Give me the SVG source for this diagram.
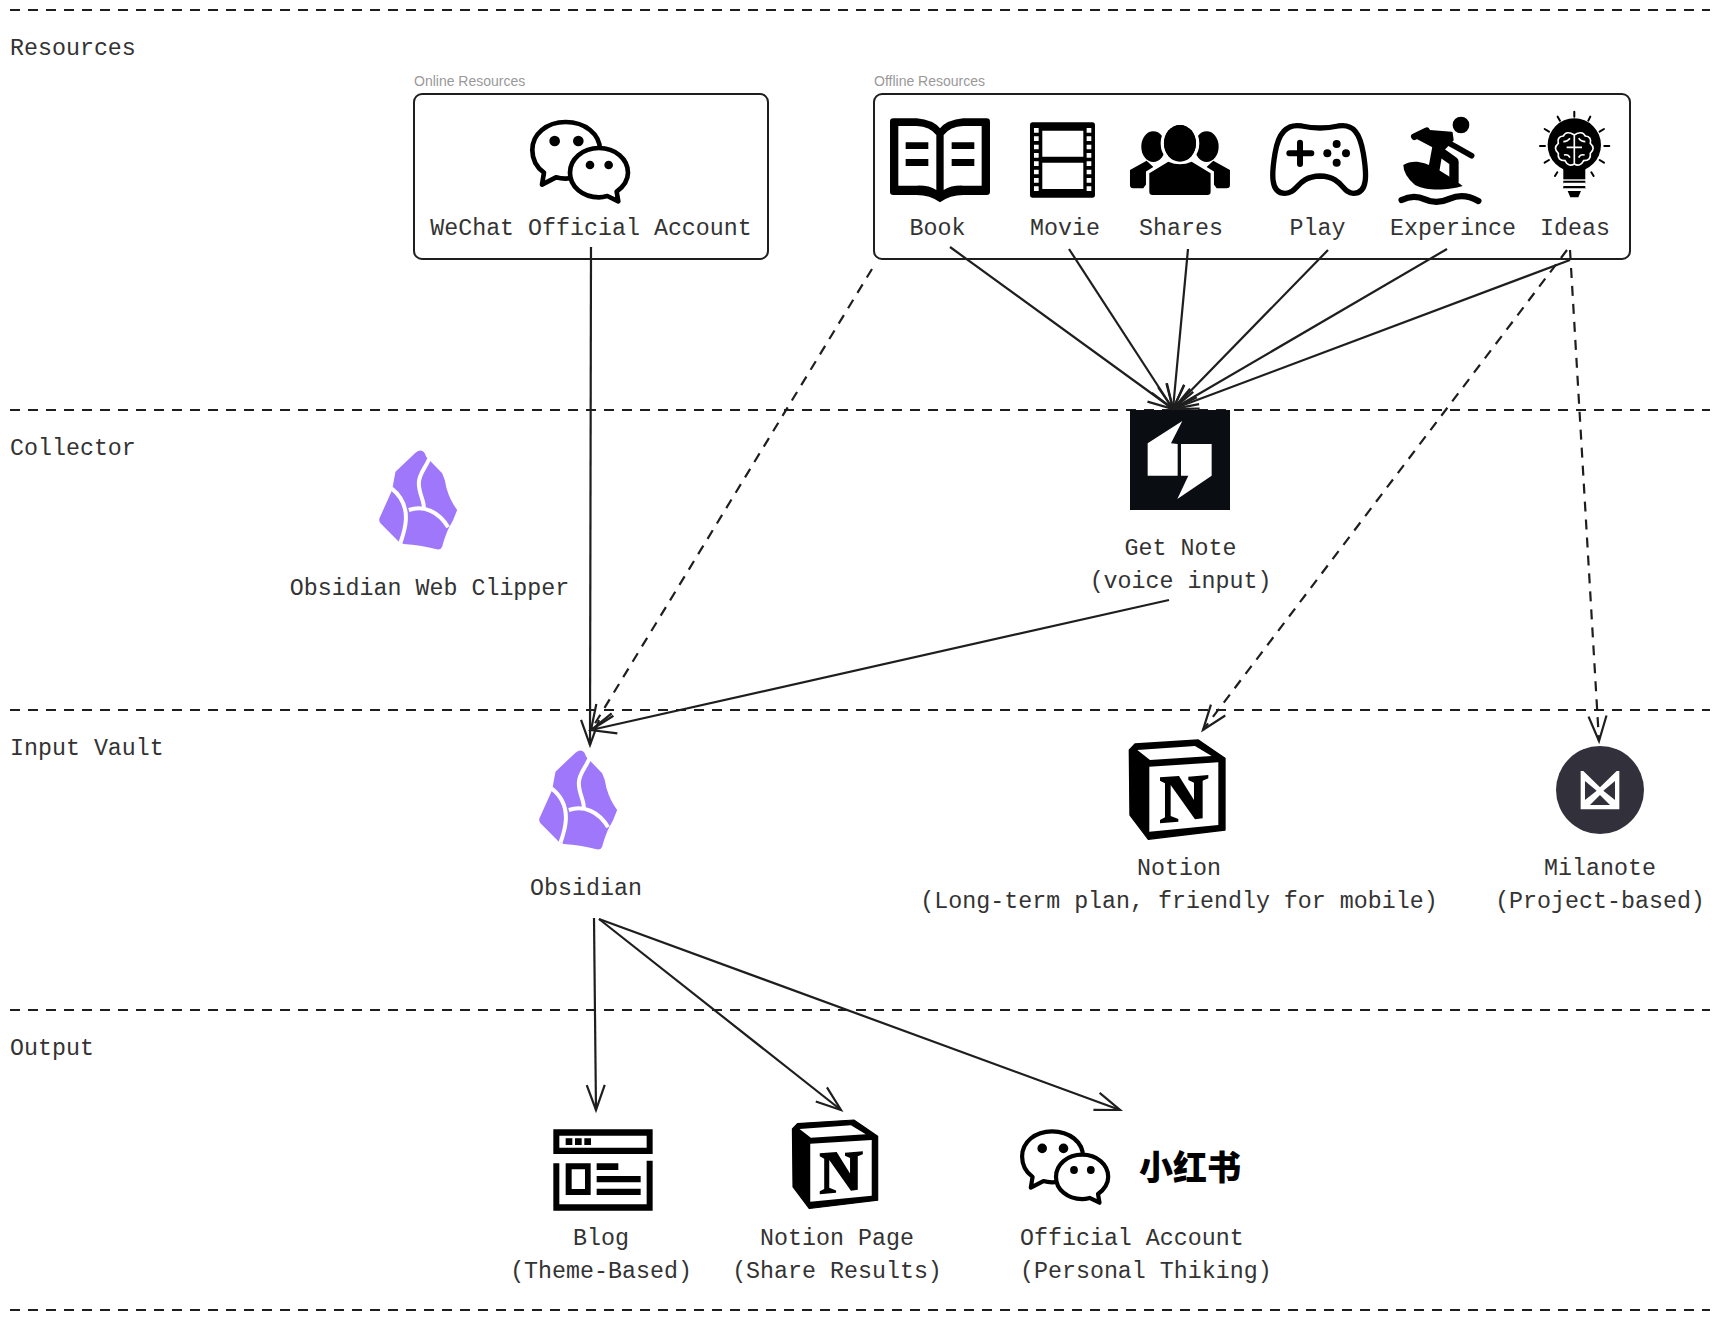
<svg xmlns="http://www.w3.org/2000/svg" xmlns:xlink="http://www.w3.org/1999/xlink" width="1720" height="1320" viewBox="0 0 1720 1320">
<style>
text{font-family:"Liberation Mono","DejaVu Sans Mono",monospace;font-size:23.3px;fill:#333}
.m{text-anchor:middle}
.sm{font-family:"Liberation Sans",Arial,sans-serif;font-size:14px;fill:#999}
.lane{stroke:#1e1e1e;stroke-width:2;stroke-dasharray:10 8;fill:none}
.box{fill:none;stroke:#1e1e1e;stroke-width:2}
.c{fill:none;stroke:#1e1e1e;stroke-width:2.2;marker-end:url(#a)}
.d{stroke-dasharray:10 8}
</style>
<defs>
<marker id="a" markerUnits="userSpaceOnUse" markerWidth="30" markerHeight="24" refX="28" refY="12" orient="auto" overflow="visible">
<path d="M3,3 L28,12 L3,21" fill="none" stroke="#1e1e1e" stroke-width="2.2"/>
</marker>
<g id="wechat">
<path d="M497,186C440,186 397,222 397,270C397,298 410,322 432,338L426,374L468,352C478,355 488,356 497,356C555,356 600,318 600,270C600,222 555,186 497,186Z" fill="#fff" stroke="#000" stroke-width="14" stroke-linejoin="round"/>
<path d="M597,264C548,264 510,297 510,338C510,380 548,412 597,412C606,412 615,410 622,408L655,424L650,395C670,380 684,360 684,338C684,297 646,264 597,264Z" fill="#fff" stroke="#000" stroke-width="14" stroke-linejoin="round"/>
<circle cx="464" cy="243" r="16"/><circle cx="535" cy="243" r="16"/><circle cx="570" cy="315" r="13"/><circle cx="626" cy="315" r="13"/>
</g>
<g id="obsidian">
<path d="M105,125L165,68Q188,50 197,80L245,130Q255,150 258,175Q270,215 290,240Q280,270 262,300Q250,330 245,350Q240,362 225,357Q180,345 130,342L115,335L60,280Q52,270 60,258L95,180Q100,150 105,125Z" fill="#9f77fa"/>
<path d="M207,85C195,115 175,130 175,160C175,190 190,210 190,232M93,175C125,200 138,235 136,270C135,295 128,315 120,338M145,240C190,225 235,245 263,292" fill="none" stroke="#fff" stroke-width="12"/>
</g>
<g id="notion">
<path d="M75,72L265,60L345,115V330L115,358L60,285L58,90Z" stroke="#000" stroke-width="4" stroke-linejoin="round"/>
<path d="M82,90L255,78L305,108L120,120Z" fill="#fff"/>
<path d="M118,140L325,127V315L118,335Z" fill="#fff"/>
<path d="M150,172L207,168L252,240V188L235,180V170L295,165V175L278,182V295L255,298L182,195V288L205,297V305L150,310V300L165,292V190L150,182Z"/>
</g>
</defs>

<g id="connectors">
<line class="lane" x1="10" y1="10" x2="1710" y2="10"/>
<line class="lane" x1="10" y1="410" x2="1710" y2="410"/>
<line class="lane" x1="10" y1="710" x2="1710" y2="710"/>
<line class="lane" x1="10" y1="1010" x2="1710" y2="1010"/>
<line class="lane" x1="10" y1="1310" x2="1710" y2="1310"/>
<path class="c" d="M591,247L590,745"/>
<path class="c d" d="M872,269L591,730"/>
<path class="c" d="M1169,600L591,730"/>
<path class="c" d="M950,247L1173,409"/>
<path class="c" d="M1069,249L1173,409"/>
<path class="c" d="M1188,249L1173,409"/>
<path class="c" d="M1328,250L1173,409"/>
<path class="c" d="M1447,249L1173,409"/>
<path class="c" d="M1570,260L1173,409"/>
<path class="c d" d="M1567,250L1203,730"/>
<path class="c d" d="M1570,250L1599,741"/>
<path class="c" d="M594,918L596,1110"/>
<path class="c" d="M599,919L841,1110"/>
<path class="c" d="M599,919L1120,1110"/>
</g>

<g id="lane-resources"><text x="10" y="55">Resources</text></g>
<g id="lane-collector"><text x="10" y="455">Collector</text></g>
<g id="lane-input"><text x="10" y="755">Input Vault</text></g>
<g id="lane-output"><text x="10" y="1055">Output</text></g>

<g id="online-resources">
<text class="sm" x="414" y="86">Online Resources</text>
<rect class="box" x="414" y="94" width="354" height="165" rx="8"/>
<use href="#wechat" xlink:href="#wechat" transform="translate(400,60) scale(.3333)"/>
<text class="m" x="591" y="235">WeChat Official Account</text>
</g>

<g id="offline-resources">
<text class="sm" x="874" y="86">Offline Resources</text>
<rect class="box" x="874" y="94" width="756" height="165" rx="8"/>
</g>

<g id="book">
<g transform="translate(860,90) scale(.3333)">
<path d="M90,95q0-10 10-10H170Q220,90 240,115Q260,90 310,85H380q10,0 10,10V305q0,10-10,10H310Q270,315 240,337Q210,315 170,315H100q-10,0-10-10Z"/>
<path d="M115,108H170Q210,110 229,135V300Q205,285 170,287H115ZM365,108H310Q270,110 251,135V300Q275,285 310,287H365Z" fill="#fff"/>
<path d="M137,157H205V177H137ZM137,207H205V228H137ZM275,157H343V177H275ZM275,207H343V228H275Z"/>
</g>
<text class="m" x="937.5" y="235">Book</text>
</g>

<g id="movie">
<g transform="translate(860,90) scale(.3333)">
<rect x="510" y="97" width="195" height="226" rx="8"/>
<path d="M547,122H670V200H547ZM547,218H670V297H547Z" fill="#fff"/>
<path d="M522,114h14v14h-14zM522,139h14v14h-14zM522,164h14v14h-14zM522,189h14v14h-14zM522,214h14v14h-14zM522,239h14v14h-14zM522,264h14v14h-14zM522,289h14v14h-14zM680,114h14v14h-14zM680,139h14v14h-14zM680,164h14v14h-14zM680,189h14v14h-14zM680,214h14v14h-14zM680,239h14v14h-14zM680,264h14v14h-14zM680,289h14v14h-14z" fill="#fff"/>
</g>
<text class="m" x="1065" y="235">Movie</text>
</g>

<g id="shares">
<g transform="translate(860,90) scale(.3333)">
<ellipse cx="880" cy="170" rx="36" ry="46"/><ellipse cx="1040" cy="170" rx="36" ry="46"/>
<path d="M810,240L860,212L890,240L850,295H820q-10,0-10-10ZM1110,240L1060,212L1030,240L1070,295H1100q10,0 10-10Z"/>
<ellipse cx="960" cy="160" rx="48" ry="55" stroke="#fff" stroke-width="20" paint-order="stroke"/>
<path d="M868,305V250L925,215Q960,230 995,215L1052,250V305q0,10-10,10H878q-10,0-10-10Z" stroke="#fff" stroke-width="20" paint-order="stroke"/>
<ellipse cx="960" cy="160" rx="48" ry="55"/>
</g>
<text class="m" x="1181" y="235">Shares</text>
</g>

<g id="play">
<g transform="translate(1270,90) scale(.3333)">
<path d="M95,108Q150,120 205,108C250,100 270,130 280,190C290,250 295,310 250,310C215,310 220,260 150,258C80,260 85,310 45,310C0,310 5,250 15,190C25,130 50,100 95,108Z" fill="none" stroke="#000" stroke-width="16"/>
<path d="M58,190H124M90,158V222" stroke="#000" stroke-width="18" stroke-linecap="round"/>
<circle cx="200" cy="162" r="12"/><circle cx="172" cy="190" r="12"/><circle cx="228" cy="190" r="12"/><circle cx="200" cy="218" r="12"/>
</g>
<text class="m" x="1317.5" y="235">Play</text>
</g>

<g id="experince">
<g transform="translate(1270,90) scale(.3333)">
<circle cx="573" cy="105" r="25"/>
<path d="M400,225C445,200 490,225 578,288C540,300 470,305 435,285Q400,255 400,225Z"/>
<path d="M433,140L470,122L545,128L548,150L515,185L505,245L480,225L490,170Z" stroke="#000" stroke-width="6" stroke-linejoin="round"/>
<path d="M433,140L470,122" fill="none" stroke="#000" stroke-width="20" stroke-linecap="round"/>
<path d="M520,150L560,172L605,197" fill="none" stroke="#000" stroke-width="17" stroke-linecap="round" stroke-linejoin="round"/>
<path d="M510,185L552,215L552,275" fill="none" stroke="#000" stroke-width="28" stroke-linecap="round" stroke-linejoin="round"/>
<path d="M395,330Q430,312 465,328T540,326T625,333" fill="none" stroke="#000" stroke-width="19" stroke-linecap="round"/>
</g>
<text class="m" x="1453" y="235">Experince</text>
</g>

<g id="ideas">
<g transform="translate(1270,90) scale(.3333)">
<circle cx="913" cy="165" r="80"/>
<path d="M880,225H946V268H880Z"/>
<path d="M880,272H946V281H880ZM880,288H946V297H880ZM893,303H933L925,322H901Z"/>
<path d="M880,281H946M880,297H946" stroke="#fff" stroke-width="5"/>
<path d="M913,65V80M863,80L870,92M961,80L955,92M824,117L837,125M1002,117L989,125M810,168H825M1018,168H1003M824,218L837,210M1002,218L989,210M855,258L862,247M971,258L964,247" stroke="#000" stroke-width="6" stroke-linecap="round"/>
<path d="M913,135Q890,120 880,138Q860,140 865,160Q848,175 865,190Q862,212 885,212Q895,232 913,222Q931,232 941,212Q964,212 961,190Q978,175 961,160Q966,140 946,138Q936,120 913,135ZM913,135V225M890,172H936M880,155Q893,155 900,145M946,155Q933,155 926,145M882,195Q895,192 900,203M944,195Q931,192 926,203" fill="none" stroke="#fff" stroke-width="5"/>
</g>
<text class="m" x="1575" y="235">Ideas</text>
</g>

<g id="web-clipper">
<use href="#obsidian" xlink:href="#obsidian" transform="translate(360.5,430) scale(.3333)"/>
<text class="m" x="429.5" y="595">Obsidian Web Clipper</text>
</g>

<g id="get-note">
<rect x="1130" y="410" width="100" height="100" fill="#0a0d12"/>
<g transform="translate(1100,380) scale(.3333)" fill="#fff">
<path d="M247,123L143,190V287H233V192L213,190Z"/>
<path d="M243,192H335V287L232,357L265,287H243Z"/>
</g>
<text class="m" x="1180.5" y="555">Get Note</text>
<text class="m" x="1180.5" y="588">(voice input)</text>
</g>

<g id="obsidian-vault">
<use href="#obsidian" xlink:href="#obsidian" transform="translate(520.5,730) scale(.3333)"/>
<text class="m" x="586" y="895">Obsidian</text>
</g>

<g id="notion-vault">
<use href="#notion" xlink:href="#notion" transform="translate(1110,720) scale(.3333)"/>
<text class="m" x="1179" y="875">Notion</text>
<text class="m" x="1179" y="908">(Long-term plan, friendly for mobile)</text>
</g>

<g id="milanote">
<circle cx="1600" cy="790" r="44" fill="#32313b"/>
<g transform="translate(1530,700) scale(.3333)">
<path d="M152,213H160L210,262L260,213H268V328H152Z" fill="#fff"/>
<path d="M165,243L200,272L165,300ZM255,243L220,272L255,300ZM210,285L240,315H180Z" fill="#32313b"/>
</g>
<text class="m" x="1600" y="875">Milanote</text>
<text class="m" x="1600" y="908">(Project-based)</text>
</g>

<g id="blog">
<g transform="translate(530,1100) scale(.3333)">
<path d="M70,88H368V162H70ZM70,190H88V313H350V182H368V332H70Z" fill-rule="evenodd"/>
<path d="M88,107H350V143H88Z" fill="#fff"/>
<path d="M107,115h20v20h-20zM135,115h20v20h-20zM163,115h20v20h-20z"/>
<path d="M107,190H182V285H107ZM125,208V267H165V208Z" fill-rule="evenodd"/>
<path d="M200,190H265V210H200ZM200,228H332V247H200ZM200,266H332V285H200Z"/>
</g>
<text class="m" x="601" y="1245">Blog</text>
<text class="m" x="601" y="1278">(Theme-Based)</text>
</g>

<g id="notion-page">
<use href="#notion" xlink:href="#notion" transform="translate(775.2,1102.2) scale(.297)"/>
<text class="m" x="837" y="1245">Notion Page</text>
<text class="m" x="837" y="1278">(Share Results)</text>
</g>

<g id="official-account">
<use href="#wechat" xlink:href="#wechat" transform="translate(903,1075.5) scale(.3)"/>
<text x="1190" y="1180" class="m" style="font-family:'Noto Sans CJK SC',sans-serif;font-size:34px;font-weight:900;fill:#000">小红书</text>
<text x="1020" y="1245">Official Account</text>
<text x="1020" y="1278">(Personal Thiking)</text>
</g>
</svg>
